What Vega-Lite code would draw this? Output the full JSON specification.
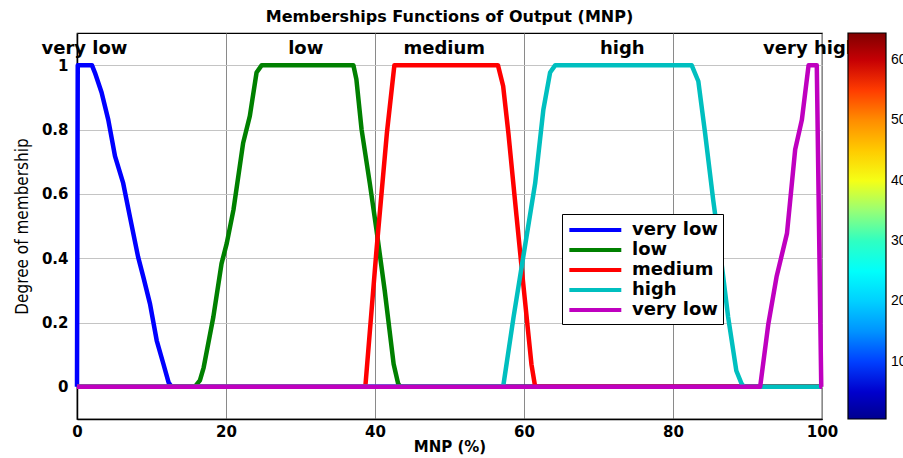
{
  "$schema": "https://vega.github.io/schema/vega-lite/v6.json",
  "width": 745,
  "height": 386,
  "autosize": "none",
  "padding": {"left": 77, "top": 33, "right": 81, "bottom": 39},
  "background": "white",
  "title": {"text": "Memberships Functions of Output (MNP)", "font": "DejaVu Sans", "fontWeight": "bold", "fontSize": 16, "color": "black", "offset": 8, "anchor": "middle"},
  "config": {
    "view": {"stroke": "black", "strokeWidth": 1.2},
    "axis": {"labelFont": "DejaVu Sans", "labelFontWeight": "bold", "labelFontSize": 15, "labelColor": "black", "domainColor": "black", "domainWidth": 1.5, "ticks": false, "titleColor": "black"}
  },
  "layer": [
    {
      "data": {"values": [
        {"s":"a","x":0,"y":0},{"s":"a","x":0.1,"y":1},{"s":"a","x":2.0,"y":1},{"s":"a","x":2.4,"y":0.977},{"s":"a","x":3.3,"y":0.915},{"s":"a","x":4.2,"y":0.83},{"s":"a","x":5.1,"y":0.717},{"s":"a","x":6.2,"y":0.633},{"s":"a","x":7.1,"y":0.529},{"s":"a","x":8.2,"y":0.404},{"s":"a","x":8.9,"y":0.342},{"s":"a","x":9.8,"y":0.258},{"s":"a","x":10.7,"y":0.144},{"s":"a","x":11.6,"y":0.071},{"s":"a","x":12.3,"y":0.013},{"s":"a","x":12.7,"y":0},{"s":"a","x":100,"y":0},
        {"s":"b","x":0,"y":0},{"s":"b","x":15.8,"y":0},{"s":"b","x":16.5,"y":0.02},{"s":"b","x":17.0,"y":0.06},{"s":"b","x":18.3,"y":0.217},{"s":"b","x":19.4,"y":0.383},{"s":"b","x":20.1,"y":0.446},{"s":"b","x":21.0,"y":0.55},{"s":"b","x":22.3,"y":0.758},{"s":"b","x":23.2,"y":0.842},{"s":"b","x":24.1,"y":0.977},{"s":"b","x":24.8,"y":1},{"s":"b","x":37.1,"y":1},{"s":"b","x":37.5,"y":0.956},{"s":"b","x":38.2,"y":0.8},{"s":"b","x":39.3,"y":0.633},{"s":"b","x":40.2,"y":0.488},{"s":"b","x":41.3,"y":0.3},{"s":"b","x":42.5,"y":0.071},{"s":"b","x":43.1,"y":0.01},{"s":"b","x":43.4,"y":0},{"s":"b","x":100,"y":0},
        {"s":"c","x":0,"y":0},{"s":"c","x":38.7,"y":0},{"s":"c","x":40.2,"y":0.425},{"s":"c","x":41.6,"y":0.79},{"s":"c","x":42.6,"y":1},{"s":"c","x":56.5,"y":1},{"s":"c","x":57.2,"y":0.935},{"s":"c","x":57.9,"y":0.79},{"s":"c","x":59.0,"y":0.53},{"s":"c","x":59.9,"y":0.32},{"s":"c","x":61.0,"y":0.07},{"s":"c","x":61.5,"y":0},{"s":"c","x":100,"y":0},
        {"s":"d","x":0,"y":0},{"s":"d","x":57.2,"y":0},{"s":"d","x":58.6,"y":0.217},{"s":"d","x":59.9,"y":0.404},{"s":"d","x":61.5,"y":0.633},{"s":"d","x":62.6,"y":0.862},{"s":"d","x":63.5,"y":0.977},{"s":"d","x":64.2,"y":1},{"s":"d","x":82.5,"y":1},{"s":"d","x":83.4,"y":0.95},{"s":"d","x":84.3,"y":0.79},{"s":"d","x":85.4,"y":0.58},{"s":"d","x":86.3,"y":0.425},{"s":"d","x":87.4,"y":0.217},{"s":"d","x":88.5,"y":0.05},{"s":"d","x":89.2,"y":0.01},{"s":"d","x":89.5,"y":0},{"s":"d","x":100,"y":0},
        {"s":"e","x":0,"y":0},{"s":"e","x":91.7,"y":0},{"s":"e","x":92.8,"y":0.196},{"s":"e","x":93.9,"y":0.342},{"s":"e","x":95.3,"y":0.477},{"s":"e","x":96.4,"y":0.738},{"s":"e","x":97.3,"y":0.83},{"s":"e","x":98.2,"y":1},{"s":"e","x":99.3,"y":1},{"s":"e","x":99.9,"y":0},{"s":"e","x":100,"y":0}
      ]},
      "mark": {"type": "line", "strokeWidth": 4.5, "strokeJoin": "round", "clip": false},
      "encoding": {
        "x": {"field": "x", "type": "quantitative", "scale": {"domain": [0, 100], "nice": false, "zero": false},
              "axis": {"values": [0, 20, 40, 60, 80, 100], "title": "MNP (%)", "titleFont": "DejaVu Sans", "titleFontWeight": "bold", "titleFontSize": 15, "titlePadding": 0, "labelPadding": 5, "grid": true, "gridColor": "#8a8a8a", "gridWidth": 1, "labelFlush": false}},
        "y": {"field": "y", "type": "quantitative", "scale": {"domain": [-0.1, 1.1], "nice": false, "zero": false},
              "axis": {"values": [0, 0.2, 0.4, 0.6, 0.8, 1], "format": "~g", "title": "Degree of membership", "titleFont": "DejaVu Sans Condensed, Liberation Sans, sans-serif", "titleFontWeight": "normal", "titleFontSize": 17, "titlePadding": 10, "labelPadding": 9, "grid": true, "gridColor": "#c4c4c4", "gridWidth": 1.2}},
        "color": {"field": "s", "type": "nominal",
          "scale": {"domain": ["a", "b", "c", "d", "e"], "range": ["#0000ff", "#008000", "#ff0000", "#00bfbf", "#bf00bf"]},
          "legend": {"title": null, "orient": "none", "legendX": 485, "legendY": 181, "symbolType": "M-1,0H5", "symbolSize": 300, "symbolStrokeWidth": 4, "rowPadding": 0, "labelOffset": 43,
            "labelExpr": "{'a':'very low','b':'low','c':'medium','d':'high','e':'very low'}[datum.value]",
            "labelFont": "DejaVu Sans", "labelFontWeight": "bold", "labelFontSize": 18, "labelColor": "black",
            "strokeColor": "black", "fillColor": "white", "padding": 5}}
      }
    },
    {
      "data": {"values": [
        {"t": "very low", "x": 1.0, "y": 1.05},
        {"t": "low", "x": 30.7, "y": 1.05},
        {"t": "medium", "x": 49.3, "y": 1.05},
        {"t": "high", "x": 73.2, "y": 1.05},
        {"t": "very high", "x": 98.5, "y": 1.05}
      ]},
      "mark": {"type": "text", "font": "DejaVu Sans", "fontWeight": "bold", "fontSize": 18, "color": "black", "align": "center", "baseline": "middle"},
      "encoding": {
        "x": {"field": "x", "type": "quantitative"},
        "y": {"field": "y", "type": "quantitative"},
        "text": {"field": "t"}
      }
    },
    {
      "data": {"values": [{"c": 1}, {"c": 64}]},
      "mark": {"type": "text", "text": ""},
      "encoding": {
        "fill": {"field": "c", "type": "quantitative",
          "scale": {"domain": [0.5, 8.5, 24.5, 40.5, 56.5, 64.5], "range": ["#00008f", "#0000ff", "#00ffff", "#ffff00", "#ff0000", "#800000"], "nice": false, "zero": false},
          "legend": {"title": null, "orient": "none", "legendX": 771, "legendY": 0, "direction": "vertical", "gradientLength": 386, "gradientThickness": 38, "gradientStrokeColor": "black", "gradientStrokeWidth": 1.2,
            "values": [10, 20, 30, 40, 50, 60], "labelFont": "Liberation Sans", "labelFontSize": 14, "labelColor": "black", "labelOffset": 5, "padding": 0}}
      }
    }
  ]
}
